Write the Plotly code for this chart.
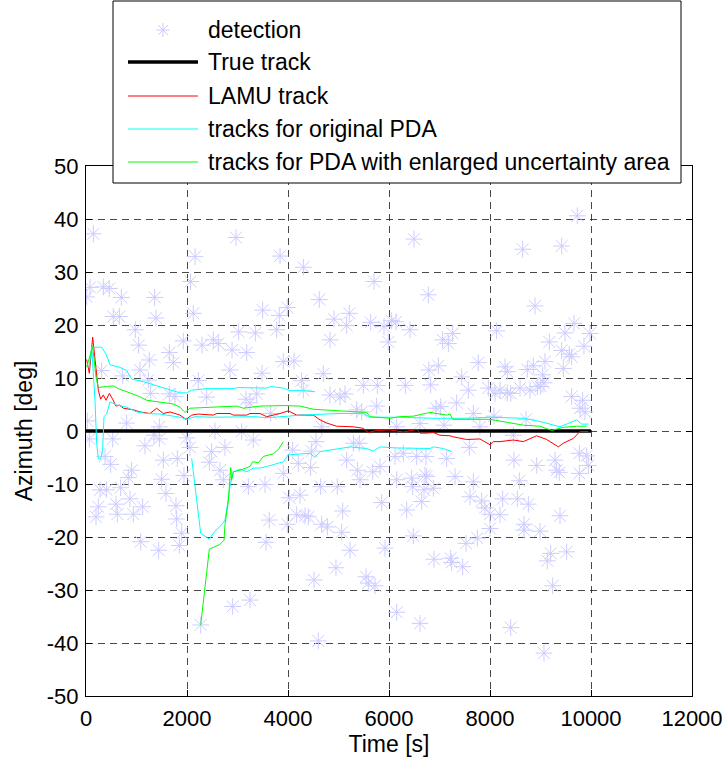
import plotly.graph_objects as go

# ---- detections (time [s], azimuth [deg]) ----
det_t = [145, 2970, 2160, 2070, 80, 343, 461, 13, 700, 1360, 540, 660, 1386, 2125, 977, 1043,
         1927, 1650, 1254, 1729, 2297, 2521, 2620, 2891, 3182, 3023, 3353, 2851, 1069, 310, 726,
         1234, 2224, 2390, 1650, 1762, 1281, 3168, 3247, 805, 1452, 26,
         6495, 3842, 4304, 5703, 6779, 4620, 3498, 3828, 3987, 4911, 5214, 5162, 5637, 5901, 6053,
         6139, 6416, 5986, 3776, 4832, 3907, 4119, 3485, 4699, 4271, 5491, 5769, 6323, 6790, 4832,
         5030, 5129, 3380, 4304, 5756, 5360, 5459, 6152, 6614, 3657, 4667,
         9729, 8647, 9419, 8891, 8132, 9663, 9980, 9485, 7063, 7175, 7261, 9175, 9861, 9419, 9570,
         9617, 7768, 6977, 7439, 8297, 8343, 8739, 8858, 9089, 9452, 9043, 9069, 9003, 6825, 7571,
         7967, 8099, 8198, 8343, 8410, 8594, 8792, 8937, 9617, 9835, 7340, 6931, 7023, 9782, 9881,
         7670, 7089, 8713, 8080, 7800,
         66, 528, 1168, 1347, 1452, 1993, 2059, 2554, 2752, 2488, 2442, 3313, 376, 489, 1531, 1808,
         904, 838, 1498, 1940, 2653, 2720, 3215, 277, 409, 686, 1584, 244, 198, 594, 620, 871, 937,
         1122, 1782, 1795, 1894, 1848, 1083, 1439, 2271, 2904, 3248, 3083,
         4554, 4093, 4469, 5294, 5412, 5162, 4204, 4449, 3907, 5373, 5426, 5677, 5822, 6119, 6284,
         6548, 6733, 6152, 6449, 6469, 6713, 6693, 4647, 4976, 3545, 4026, 4238, 5855, 6350, 6647,
         3630, 3987, 4172, 4337, 4403, 4667, 4779, 5083, 5063, 6482, 3564, 5228, 5921, 4950, 4515,
         5545, 5590, 5723, 6152, 6614, 4600,
         7142, 7591, 8475, 8925, 9287, 9320, 9373, 9769, 9914, 9947, 9769, 6746, 7307, 7670, 8581,
         6878, 7604, 7835, 7901, 8000, 8251, 8541, 8759, 8198, 9386, 8673, 8673, 8990, 8000, 7749,
         7525, 6891, 7221, 7241, 7459, 9201, 9135, 9518, 9241, 8410, 9069, 8462]
det_az = [37.2, 36.5, 32.9, 28.2, 27.1, 27.2, 26.9, 25.3, 25.2, 25.2, 21.6, 21.6, 21.3, 22.2, 19.1, 16.2,
          17.0, 14.8, 13.4, 12.9, 16.2, 17.2, 16.5, 15.3, 14.8, 18.7, 18.5, 11.5, 11.5, 11.4, 10.4,
          9.6, 9.5, 6.4, 7.0, 6.5, 7.1, 6.0, 5.3, 1.5, 0.8, 1.9,
          36.2, 33.0, 30.9, 28.2, 25.7, 24.8, 22.8, 21.8, 23.3, 21.1, 22.2, 19.9, 20.5, 19.7, 20.8,
          20.6, 19.1, 16.8, 19.1, 17.2, 13.1, 13.2, 10.9, 10.8, 9.5, 8.6, 8.6, 8.6, 11.5, 6.8,
          6.4, 7.0, 7.0, 7.7, 4.7, 4.0, 3.6, 0.8, 1.4, 3.3, 0.8,
          40.6, 34.3, 34.9, 23.6, 18.9, 20.3, 18.4, 18.5, 17.2, 16.5, 18.4, 16.8, 16.0, 15.2, 14.5,
          14.0, 12.9, 12.3, 10.2, 12.1, 11.2, 11.6, 12.3, 13.1, 11.8, 10.6, 9.1, 8.4, 8.7, 7.7,
          8.1, 7.1, 7.7, 7.2, 7.1, 8.1, 7.7, 8.4, 6.5, 5.8, 5.3, 4.3, 4.6, 4.3, 3.6,
          3.3, 1.1, 2.2, 2.8, 0.8,
          -1.5, -1.5, -2.8, -0.8, -1.5, -1.3, -3.1, 0.0, -3.1, -3.9, -5.9, -1.7, -4.8, -6.3, -5.5, -5.2,
          -7.4, -8.8, -9.1, -8.4, -7.4, -9.2, -10.5, -11.1, -11.1, -10.7, -11.8, -14.3, -16.2, -13.8,
          -15.7, -12.8, -15.7, -14.3, -14.1, -16.6, -19.3, -21.6, -20.9, -22.5, -36.6, -33.1, -31.9, -0.1,
          -2.0, -3.6, -3.8, -2.3, -2.3, -5.5, -6.1, -6.9, -8.0, -7.4, -9.2, -7.7, -6.7, -4.8, -4.2,
          -4.8, -4.8, -9.2, -8.9, -10.5, -8.3, -11.1, -10.5, -10.5, -10.1, -12.6, -12.1, -13.5, -14.9,
          -13.3, -16.8, -17.6, -15.8, -16.0, -16.2, -17.6, -18.1, -15.1, -19.1, -19.8, -21.0, -22.5,
          -22.1, -25.8, -28.1, -27.5, -28.7, -29.2, -34.2, -36.3, -39.6,
          -5.2, -3.1, -5.5, -6.5, -5.5, -7.4, -7.8, -4.2, -4.7, -6.5, -8.0, -8.6, -8.6, -9.6, -9.4,
          -10.8, -12.4, -13.2, -14.5, -15.7, -12.8, -12.8, -13.8, -15.8, -16.0, -17.6, -18.7, -18.9,
          -18.4, -20.2, -21.2, -24.2, -24.0, -24.8, -25.6, -23.1, -24.5, -22.8, -29.2, -37.1, -41.9, -0.8]

# ---- true target track ----
true_t = [0, 10000]
true_az = [0, 0]

# ---- LAMU track ----
lamu_t = [13, 66, 132, 198, 244, 290, 343, 396, 462, 528, 594, 660, 739, 937, 1069, 1267, 1399,
          1531, 1663, 1861, 1980, 2093, 2224, 2521, 2587, 2851, 2917, 3182, 3248, 3446, 3578,
          3842, 4007, 4172, 4502, 4634, 4766, 4964, 5294, 5491, 5590, 5756, 6020, 6218, 6284,
          6548, 6614, 6746, 6878, 7010, 7208, 7274, 7538, 7802, 7934, 8000, 8066, 8198, 8462,
          8660, 8924, 9122, 9353, 9452, 9650, 9782, 9947]
lamu_az = [13.5, 10.9, 17.7, 10.9, 7.7, 6.0, 6.8, 5.8, 7.1, 6.0, 4.7, 4.9, 4.3, 4.0, 3.6, 3.3, 4.3,
           3.3, 3.6, 3.0, 2.2, 3.0, 3.2, 3.0, 3.3, 3.3, 3.0, 3.0, 3.3, 3.3, 2.7,
           3.3, 3.8, 3.0, 3.0, 2.1, 1.5, 0.9, 0.8, 0.5, -0.3, 0.1, 0.2, -0.1, -0.2,
           0.3, -0.4, -0.4, -0.3, -0.8, -0.9, -1.1, -1.6, -1.5, -2.3, -2.6, -2.0, -2.0, -1.7,
           -2.0, -0.9, -1.6, -3.0, -2.3, -1.4, -0.1, -0.1]

# ---- original PDA tracks ----
pda1_t = [60, 112, 310, 396, 475, 673, 805, 904, 1135, 1465, 1729, 1861, 1993, 2093, 2390, 2917,
          3016, 3248, 3578, 3660, 3907, 4040, 4304, 4535]
pda1_az = [12.0, 15.8, 15.8, 14.5, 12.5, 12.0, 11.4, 9.8, 9.3, 8.4, 7.6, 7.2, 7.2, 7.7, 8.0, 8.0,
           8.2, 8.2, 8.1, 8.4, 8.1, 7.6, 7.6, 7.4]

pda2_t = [112, 178, 211, 244, 290, 330, 356, 409, 475, 607, 805, 1003, 1201, 1465, 1729, 1861,
          1993, 2158, 2521, 2983, 3347, 3578, 3842, 4007, 4238, 4502, 4634, 5030, 5491, 5624,
          5954, 6218, 6878, 7538, 8000, 8660, 8990, 9386, 9518, 9716, 9815, 9947]
pda2_az = [15.8, 5.8, -2.3, -5.2, -5.3, -3.6, 2.7, 3.2, 5.5, 4.9, 4.5, 3.6, 3.3, 3.2, 2.8, 2.6,
           2.2, 2.7, 2.6, 2.6, 2.7, 2.5, 2.6, 2.8, 3.0, 3.1, 3.2, 3.3, 3.3, 2.6,
           2.6, 2.6, 2.4, 2.4, 2.6, 2.4, 1.8, 0.8, 1.3, 2.1, 1.3, 1.3]

pda3_t = [2093, 2271, 2442, 2554, 2686, 2752, 2785, 2851, 2917, 3050, 3182, 3313, 3446, 3578,
          3907, 4007, 4436, 4535, 4634, 4964, 5228, 5558, 5690, 5822, 6152, 6812, 6878, 7076, 7241]
pda3_az = [-5.2, -19.3, -20.4, -18.9, -17.7, -16.8, -14.9, -10.5, -7.7, -7.2, -7.7, -7.0, -7.0, -6.7,
           -5.8, -4.5, -4.2, -5.0, -3.9, -3.4, -3.0, -3.3, -3.8, -3.0, -3.2, -3.3, -3.0, -3.3, -3.9]

# ---- PDA with enlarged uncertainty area ----
enl1_t = [13, 132, 198, 244, 409, 541, 640, 871, 1036, 1201, 1465, 1729, 1861, 1960, 2059, 2521,
          2983, 3116, 3446, 3907, 4238, 4502, 4964, 5558, 5624, 6020, 6218, 6482, 6812, 7142,
          7208, 7261, 8000, 8396, 8660, 8990, 9221, 9452, 9716, 9914]
enl1_az = [12.1, 15.9, 10.2, 8.2, 8.4, 8.5, 8.0, 7.1, 6.6, 5.8, 5.5, 5.1, 4.5, 3.5, 4.3, 4.5,
           4.7, 4.3, 4.7, 4.8, 4.7, 4.1, 3.8, 3.5, 2.7, 2.4, 2.7, 2.8, 3.5, 3.0,
           3.2, 2.2, 2.2, 1.6, 1.1, 0.9, 0.1, 0.7, 0.9, 0.9]

enl2_t = [2271, 2442, 2653, 2733, 2752, 2818, 2865, 2884, 2917, 3050, 3248, 3300, 3413, 3512,
          3710, 3809, 3907]
enl2_az = [-36.6, -22.3, -21.4, -20.6, -17.7, -13.3, -6.9, -9.2, -7.7, -7.4, -6.7, -5.8, -6.0, -4.8,
           -4.3, -3.5, -2.0]

x_ticks = [0, 2000, 4000, 6000, 8000, 10000, 12000]
y_ticks = [-50, -40, -30, -20, -10, 0, 10, 20, 30, 40, 50]

legend_labels = ["detection", "True track", "LAMU track", "tracks for original PDA",
                 "tracks for PDA with enlarged uncertainty area"]

DET_COLOR = "rgb(204,204,255)"
RED = "rgb(255,0,0)"
CYAN = "rgb(0,255,255)"
GREEN = "rgb(0,255,0)"
FONT = "Liberation Sans, Arial, sans-serif"

fig = go.Figure()
fig.add_trace(go.Scatter(x=det_t, y=det_az, mode="markers",
                         marker=dict(symbol="asterisk-open", size=14,
                                     line=dict(color=DET_COLOR, width=1), color=DET_COLOR),
                         showlegend=False))
fig.add_trace(go.Scatter(x=true_t, y=true_az, mode="lines",
                         line=dict(color="black", width=3.5), showlegend=False))
fig.add_trace(go.Scatter(x=lamu_t, y=lamu_az, mode="lines",
                         line=dict(color=RED, width=1), showlegend=False))
for tt, aa in [(pda1_t, pda1_az), (pda2_t, pda2_az), (pda3_t, pda3_az)]:
    fig.add_trace(go.Scatter(x=tt, y=aa, mode="lines",
                             line=dict(color=CYAN, width=1), showlegend=False))
for tt, aa in [(enl1_t, enl1_az), (enl2_t, enl2_az)]:
    fig.add_trace(go.Scatter(x=tt, y=aa, mode="lines",
                             line=dict(color=GREEN, width=1), showlegend=False))

# plot frame in pixels
PL, PR, PT, PB = 86, 692, 166, 696
W, H = 725, 760


def fx(p):
    return (p - PL) / (PR - PL)


def fy(p):
    return (PB - p) / (PB - PT)


# hand-built legend box
shapes = [dict(type="rect", xref="paper", yref="paper", x0=fx(113), x1=fx(681), y0=fy(183), y1=fy(1),
               line=dict(color="black", width=1), fillcolor="white", layer="above")]
sample_styles = [("black", 3.5), (RED, 1), (CYAN, 1), (GREEN, 1)]
rows_y = [30, 62, 96, 129, 162]
for (col, w), yy in zip(sample_styles, rows_y[1:]):
    shapes.append(dict(type="line", xref="paper", yref="paper", x0=fx(128), x1=fx(198),
                       y0=fy(yy), y1=fy(yy), line=dict(color=col, width=w), layer="above"))
shapes.append(dict(type="path", xref="paper", yref="paper", xsizemode="pixel", ysizemode="pixel",
                   xanchor=fx(163), yanchor=fy(rows_y[0]),
                   path="M-7,0L7,0M0,-7L0,7M-5,-5L5,5M-5,5L5,-5",
                   line=dict(color=DET_COLOR, width=1), layer="above"))
annotations = []
for lab, yy in zip(legend_labels, rows_y):
    annotations.append(dict(text=lab, xref="paper", yref="paper", x=fx(206), y=fy(yy),
                            xanchor="left", yanchor="middle", showarrow=False,
                            font=dict(family=FONT, size=23, color="black")))

axis_common = dict(showline=True, linecolor="black", linewidth=1, mirror="ticks",
                   ticks="inside", ticklen=6, tickcolor="black", showgrid=True,
                   gridcolor="rgba(40,40,40,0.85)", gridwidth=1, griddash="7px,5px",
                   zeroline=False, automargin=False,
                   tickfont=dict(family=FONT, size=22, color="black"))

fig.update_layout(
    width=W, height=H,
    margin=dict(l=PL, r=W - PR, t=PT, b=H - PB, pad=0, autoexpand=False),
    paper_bgcolor="white", plot_bgcolor="white",
    xaxis=dict(range=[0, 12000], tickvals=x_ticks, ticktext=[str(v) for v in x_ticks],
               ticklabelstandoff=3,
               title=dict(text="Time [s]", font=dict(family=FONT, size=23, color="black"), standoff=4),
               **axis_common),
    yaxis=dict(range=[-50, 50], tickvals=y_ticks, ticktext=[str(v) for v in y_ticks],
               ticklabelstandoff=2,
               title=dict(text="Azimuth [deg]", font=dict(family=FONT, size=23, color="black"), standoff=7),
               **axis_common),
    shapes=shapes, annotations=annotations, showlegend=False,
)

fig.write_html("out.html")
